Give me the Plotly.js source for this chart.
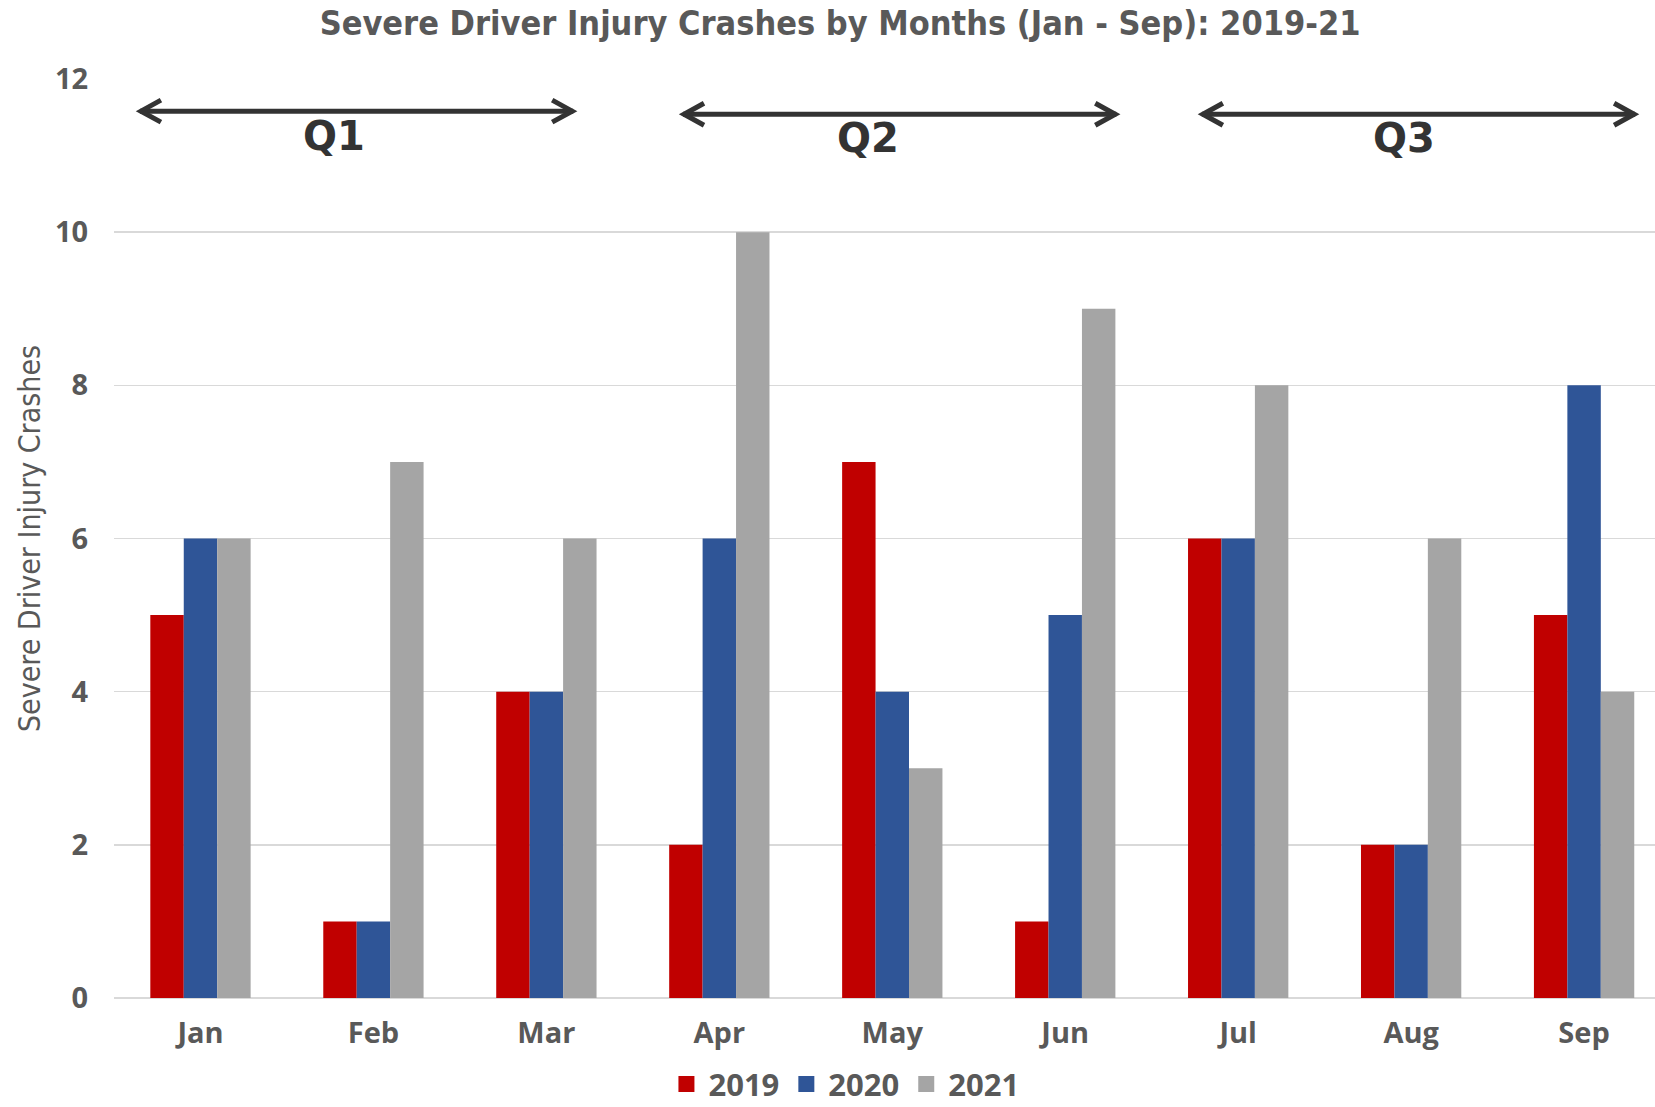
<!DOCTYPE html>
<html>
<head>
<meta charset="utf-8">
<script src="https://cdn.plot.ly/plotly-3.0.1.min.js"></script>
<style>html,body{margin:0;padding:0;background:#fff;}</style>
</head>
<body>
<div id="chart" style="width:1655px;height:1107px;"></div>
<script>
const months = ['Jan','Feb','Mar','Apr','May','Jun','Jul','Aug','Sep'];
const years = ['2019','2020','2021'];
const crashes2019 = [5,1,4,2,7,1,6,2,5];
const crashes2020 = [6,1,4,6,4,5,6,2,8];
const crashes2021 = [6,7,6,10,3,9,8,6,4];
const quarterLabels = ['Q1','Q2','Q3'];

const colors = ['#C00000','#2F5597','#A5A5A5'];
const series = [crashes2019, crashes2020, crashes2021];
const textColor = '#595959';
const condFam = 'DejaVu Sans Condensed, Liberation Sans Narrow, sans-serif';
const tickFam = 'Open Sans, DejaVu Sans, sans-serif';

const traces = series.map((vals, i) => ({
  type: 'bar',
  name: years[i],
  x: months,
  y: vals,
  marker: {color: colors[i], line: {width: 0}},
  showlegend: false,
  hoverinfo: 'x+y+name'
}));
// legend entries with square swatches
series.forEach((vals, i) => {
  traces.push({type:'scatter', mode:'markers', name: years[i], x:[null], y:[null],
    marker:{symbol:'square', size:16, color: colors[i]}, showlegend:true, hoverinfo:'skip'});
});

// quarter arrows (layout decoration, in category units)
const arrowSpans = [[-0.35, 2.155, 11.58], [2.79, 5.295, 11.54], [5.79, 8.295, 11.54]];
const labelCenters = [[0.77, 11.25], [3.86, 11.23], [6.96, 11.23]];
const shapes = [];
const annotations = [];
arrowSpans.forEach((a, q) => {
  const [x0, x1, yy] = a;
  shapes.push({type:'line', xref:'x', yref:'y', x0:x0, x1:x1, y0:yy, y1:yy,
    line:{color:'#333333', width:5}});
  shapes.push({type:'path', xref:'x', yref:'y', xsizemode:'pixel', ysizemode:'pixel',
    xanchor:x0, yanchor:yy, path:'M 21 11 L 1 0 L 21 -11',
    line:{color:'#333333', width:5}});
  shapes.push({type:'path', xref:'x', yref:'y', xsizemode:'pixel', ysizemode:'pixel',
    xanchor:x1, yanchor:yy, path:'M -21 11 L -1 0 L -21 -11',
    line:{color:'#333333', width:5}});
  annotations.push({xref:'x', yref:'y', x: labelCenters[q][0], y: labelCenters[q][1],
    text: '<b>' + quarterLabels[q] + '</b>', showarrow:false,
    font:{family:'DejaVu Sans, sans-serif', size:40, color:'#333333'}});
});

const layout = {
  width:1655, height:1107,
  margin:{l:114, r:0, t:79, b:109, autoexpand:false},
  paper_bgcolor:'#ffffff', plot_bgcolor:'#ffffff',
  barmode:'group', bargap:0.42, bargroupgap:0,
  title:{text:'<b>Severe Driver Injury Crashes by Months (Jan - Sep): 2019-21</b>',
    x:0.5076, xanchor:'center', xref:'container', y:0.979, yanchor:'middle', yref:'container',
    font:{family:condFam, size:34, color:textColor}},
  xaxis:{range:[-0.5, 8.41], showgrid:false, zeroline:false, showline:false, automargin:false,
    ticks:'outside', ticklen:9, tickcolor:'rgba(0,0,0,0)',
    tickfont:{family:tickFam, size:29, color:textColor, weight:'bold'}},
  yaxis:{range:[0,12], dtick:2, showgrid:true, gridcolor:'#D9D9D9', gridwidth:1.5, automargin:false,
    zeroline:true, zerolinecolor:'#D9D9D9', zerolinewidth:1.5, showline:false,
    ticks:'outside', ticklen:19, tickcolor:'rgba(0,0,0,0)',
    tickfont:{family:tickFam, size:29, color:textColor, weight:'bold'},
    title:{text:'Severe Driver Injury Crashes', standoff:5,
      font:{family:condFam, size:30, color:textColor}}},
  legend:{orientation:'h', x:0.474, xanchor:'center', y:0.0205, yanchor:'middle', yref:'container',
    font:{family:tickFam, size:31, color:textColor, weight:'bold'}, itemwidth:34, tracegroupgap:0},
  shapes:shapes,
  annotations:annotations,
  showlegend:true
};

Plotly.newPlot('chart', traces, layout, {displayModeBar:false, staticPlot:true});
</script>
</body>
</html>
